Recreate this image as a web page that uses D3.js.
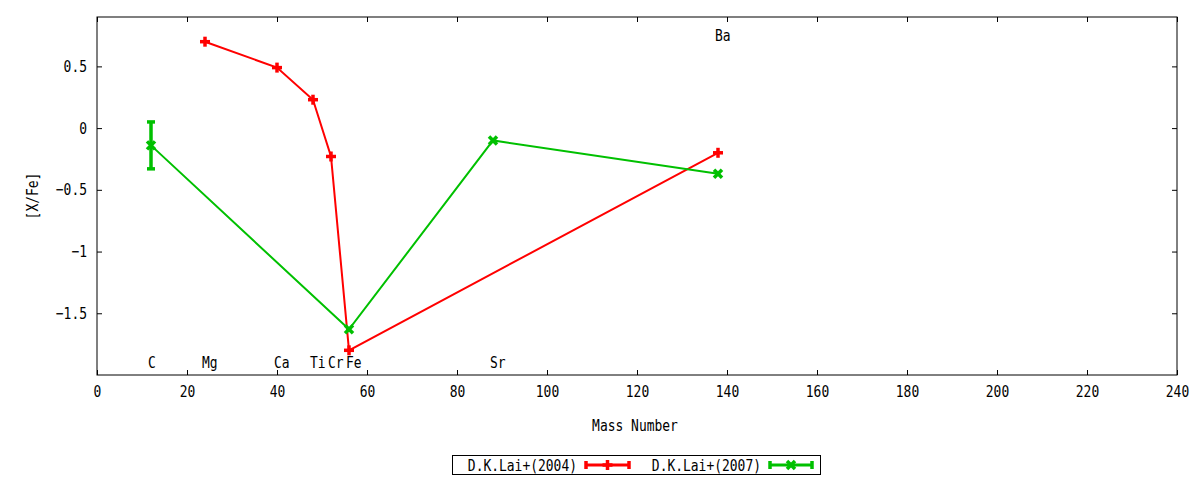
<!DOCTYPE html>
<html>
<head>
<meta charset="utf-8">
<script src="https://cdn.jsdelivr.net/npm/d3@7"></script>
<style>
  body { margin: 0; background: #fff; }
  svg text { font-family: "DejaVu Sans Mono", monospace; font-size: 16px; fill: #000; }
</style>
</head>
<body>
<div id="chart"></div>
<script>
// ---- data ----
const lai2004Mass = [24, 40, 48, 52, 56, 138];
const lai2004Val  = [0.70, 0.49, 0.23, -0.23, -1.80, -0.20];

const lai2007Mass = [12, 56, 88, 138];
const lai2007Val  = [-0.14, -1.63, -0.10, -0.37];
const lai2007Err  = [0.19, 0, 0, 0];

const elemNames = ['C', 'Mg', 'Ca', 'Ti', 'Cr', 'Fe', 'Sr', 'Ba'];
const elemMass  = [12, 24, 40, 48, 52, 56, 88, 138];
const elemLabelY = [-1.9, -1.9, -1.9, -1.9, -1.9, -1.9, -1.9, 0.75];

const xTicks = [0, 20, 40, 60, 80, 100, 120, 140, 160, 180, 200, 220, 240];
const yTicks = [0.5, 0, -0.5, -1, -1.5];

const seriesNames = ['D.K.Lai+(2004)', 'D.K.Lai+(2007)'];
const RED = '#ff0000', GREEN = '#00c000';

// ---- layout ----
const W = 1200, H = 480;
const plot = { left: 97, top: 17, right: 1177, bottom: 375 };
const SQ = 0.81; // gnuplot's narrow mono face

const svg = d3.select('#chart').append('svg')
    .attr('width', W).attr('height', H);

const x = d3.scaleLinear().domain([0, 240]).range([plot.left, plot.right]);
const y = d3.scaleLinear().domain([-2, 0.9]).range([plot.bottom, plot.top]);

function squash(sel) {
    sel.attr('transform', function() {
        const t = this.getAttribute('transform') || '';
        return t + ` scale(${SQ},1)`;
    });
}

// ---- axes (ticks inward, mirrored) ----
const tickLen = 5;
const gx = svg.append('g')
    .attr('transform', `translate(0,${plot.bottom})`)
    .call(d3.axisBottom(x).tickValues(xTicks).tickSize(-tickLen).tickSizeOuter(0).tickPadding(11));
gx.selectAll('text').call(squash);

const gy = svg.append('g')
    .attr('transform', `translate(${plot.left},0)`)
    .call(d3.axisLeft(y).tickValues(yTicks).tickSize(-tickLen).tickSizeOuter(0).tickFormat(d3.format('')));
gy.selectAll('text').attr('x', -10 / SQ).call(squash);

svg.append('g')
    .attr('transform', `translate(0,${plot.top})`)
    .call(d3.axisTop(x).tickValues(xTicks).tickSize(-tickLen).tickSizeOuter(0).tickFormat(''));
svg.append('g')
    .attr('transform', `translate(${plot.right},0)`)
    .call(d3.axisRight(y).tickValues(yTicks).tickSize(-tickLen).tickSizeOuter(0).tickFormat(''));

svg.selectAll('.domain').remove();
svg.selectAll('.tick line').attr('stroke', '#000');

svg.append('rect')
    .attr('x', plot.left).attr('y', plot.top)
    .attr('width', plot.right - plot.left).attr('height', plot.bottom - plot.top)
    .attr('fill', 'none').attr('stroke', '#000').attr('stroke-width', 1);

// axis titles
svg.append('text')
    .attr('transform', `translate(${(plot.left + plot.right) / 2 - 2},431)`)
    .attr('text-anchor', 'middle')
    .text('Mass Number').call(squash);

svg.append('text')
    .attr('transform', `translate(38,${(plot.top + plot.bottom) / 2}) rotate(-90)`)
    .attr('text-anchor', 'middle')
    .text('[X/Fe]').call(squash);

// element labels
svg.append('g').selectAll('text')
    .data(elemNames)
    .join('text')
    .attr('transform', (d, i) => `translate(${x(elemMass[i]) - 3},${y(elemLabelY[i])})`)
    .attr('dy', '0.35em')
    .text(d => d)
    .call(squash);

// ---- markers ----
function plus(g, cx, cy, color) {
    const s = 5;
    g.append('line').attr('x1', cx - s).attr('x2', cx + s).attr('y1', cy).attr('y2', cy)
        .attr('stroke', color).attr('stroke-width', 3.5);
    g.append('line').attr('x1', cx).attr('x2', cx).attr('y1', cy - s).attr('y2', cy + s)
        .attr('stroke', color).attr('stroke-width', 3.5);
}
function cross(g, cx, cy, color) {
    const s = 4;
    g.append('line').attr('x1', cx - s).attr('x2', cx + s).attr('y1', cy - s).attr('y2', cy + s)
        .attr('stroke', color).attr('stroke-width', 3.5);
    g.append('line').attr('x1', cx - s).attr('x2', cx + s).attr('y1', cy + s).attr('y2', cy - s)
        .attr('stroke', color).attr('stroke-width', 3.5);
}
function errBar(g, cx, lo, hi, color) {
    const cap = 4;
    g.append('line').attr('x1', cx).attr('x2', cx).attr('y1', y(lo)).attr('y2', y(hi))
        .attr('stroke', color).attr('stroke-width', 3.5);
    [lo, hi].forEach(v => {
        g.append('line').attr('x1', cx - cap).attr('x2', cx + cap).attr('y1', y(v)).attr('y2', y(v))
            .attr('stroke', color).attr('stroke-width', 3.5);
    });
}

const line = d3.line().x(d => x(d[0])).y(d => y(d[1]));

// 2004 series
const pts2004 = lai2004Mass.map((m, i) => [m, lai2004Val[i]]);
const g2004 = svg.append('g');
g2004.append('path').datum(pts2004).attr('d', line)
    .attr('fill', 'none').attr('stroke', RED).attr('stroke-width', 2);
pts2004.forEach(p => plus(g2004, x(p[0]), y(p[1]), RED));

// 2007 series
const pts2007 = lai2007Mass.map((m, i) => [m, lai2007Val[i], lai2007Err[i]]);
const g2007 = svg.append('g');
g2007.append('path').datum(pts2007).attr('d', line)
    .attr('fill', 'none').attr('stroke', GREEN).attr('stroke-width', 2);
pts2007.forEach(p => {
    if (p[2] > 0) errBar(g2007, x(p[0]), p[1] - p[2], p[1] + p[2], GREEN);
    cross(g2007, x(p[0]), y(p[1]), GREEN);
});

// ---- legend ----
const leg = svg.append('g');
leg.append('rect')
    .attr('x', 452.5).attr('y', 455.5).attr('width', 368).attr('height', 19)
    .attr('fill', 'none').attr('stroke', '#000');

const legItems = [
    { name: seriesNames[0], color: RED, textEnd: 577, x0: 586, x1: 629, mark: plus },
    { name: seriesNames[1], color: GREEN, textEnd: 761, x0: 770, x1: 812, mark: cross }
];
legItems.forEach(it => {
    leg.append('text')
        .attr('transform', `translate(${it.textEnd},471)`)
        .attr('text-anchor', 'end')
        .text(it.name).call(squash);
    leg.append('line').attr('x1', it.x0).attr('x2', it.x1).attr('y1', 465).attr('y2', 465)
        .attr('stroke', it.color).attr('stroke-width', 3);
    [it.x0, it.x1].forEach(xx => {
        leg.append('line').attr('x1', xx).attr('x2', xx).attr('y1', 461).attr('y2', 469)
            .attr('stroke', it.color).attr('stroke-width', 3.5);
    });
    it.mark(leg, (it.x0 + it.x1) / 2, 465, it.color);
});
</script>
</body>
</html>
